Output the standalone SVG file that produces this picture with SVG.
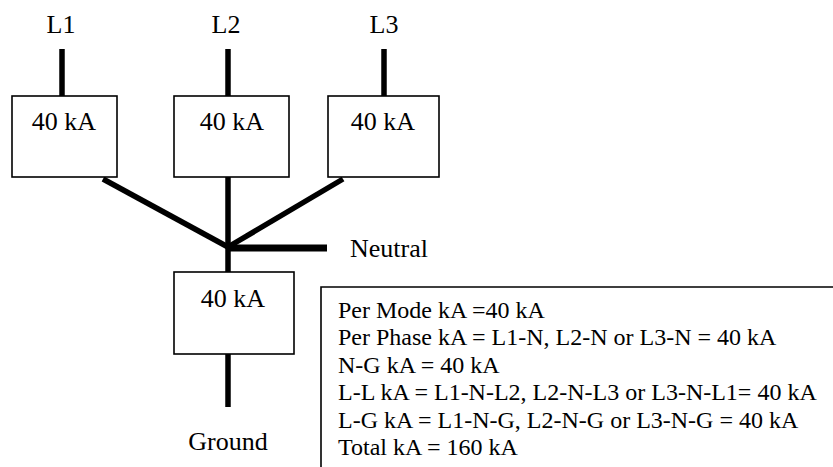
<svg xmlns="http://www.w3.org/2000/svg" width="833" height="467" viewBox="0 0 833 467">
<style>
.box{fill:#fff;stroke:#000;stroke-width:1.6}
.t{font-family:'Liberation Serif','Times New Roman',Times,'DejaVu Serif',serif;font-size:26px;fill:#000}
.n{font-family:'Liberation Serif','Times New Roman',Times,'DejaVu Serif',serif;font-size:24px;fill:#000}
.w{stroke:#000;stroke-width:5.5;fill:none}
</style>
<rect width="833" height="467" fill="#fff"/>
<g id="connectors">
<line class="w" x1="62" y1="49" x2="62" y2="96"/>
<line class="w" x1="228" y1="49" x2="228" y2="96"/>
<line class="w" x1="384" y1="49" x2="384" y2="96"/>
<line class="w" x1="103" y1="179" x2="228" y2="247"/>
<line class="w" x1="343" y1="179" x2="228" y2="247"/>
<line class="w" x1="228" y1="177" x2="228" y2="272"/>
<line class="w" x1="228" y1="248" x2="327" y2="248" style="stroke-width:7"/>
<line class="w" x1="228" y1="354" x2="228" y2="407"/>
</g>
<g id="L1"><text class="t" x="61" y="33" text-anchor="middle" font-family="Liberation Serif">L1</text></g>
<g id="L2"><text class="t" x="226" y="33" text-anchor="middle">L2</text></g>
<g id="L3"><text class="t" x="384" y="33" text-anchor="middle">L3</text></g>
<g id="box1"><rect class="box" x="12" y="96" width="105" height="81"/><text class="t" x="64" y="130" text-anchor="middle">40 kA</text></g>
<g id="box2"><rect class="box" x="174" y="96" width="115" height="81"/><text class="t" x="232" y="130" text-anchor="middle">40 kA</text></g>
<g id="box3"><rect class="box" x="328" y="96" width="111" height="81"/><text class="t" x="383" y="130" text-anchor="middle">40 kA</text></g>
<g id="neutral"><text class="t" x="350" y="257">Neutral</text></g>
<g id="box4"><rect class="box" x="174" y="272" width="120" height="82"/><text class="t" x="233" y="307" text-anchor="middle">40 kA</text></g>
<g id="ground"><text class="t" x="228" y="450" text-anchor="middle">Ground</text></g>
<g id="note">
<path d="M321,467 V287 H833" fill="none" stroke="#000" stroke-width="1.6"/>
<text class="n" x="338" y="318">Per Mode kA =40 kA</text>
<text class="n" x="338" y="345">Per Phase kA = L1-N, L2-N or L3-N = 40 kA</text>
<text class="n" x="338" y="373">N-G kA = 40 kA</text>
<text class="n" x="338" y="400">L-L kA = L1-N-L2, L2-N-L3 or L3-N-L1= 40 kA</text>
<text class="n" x="338" y="428">L-G kA = L1-N-G, L2-N-G or L3-N-G = 40 kA</text>
<text class="n" x="338" y="455">Total kA = 160 kA</text>
</g>
</svg>
